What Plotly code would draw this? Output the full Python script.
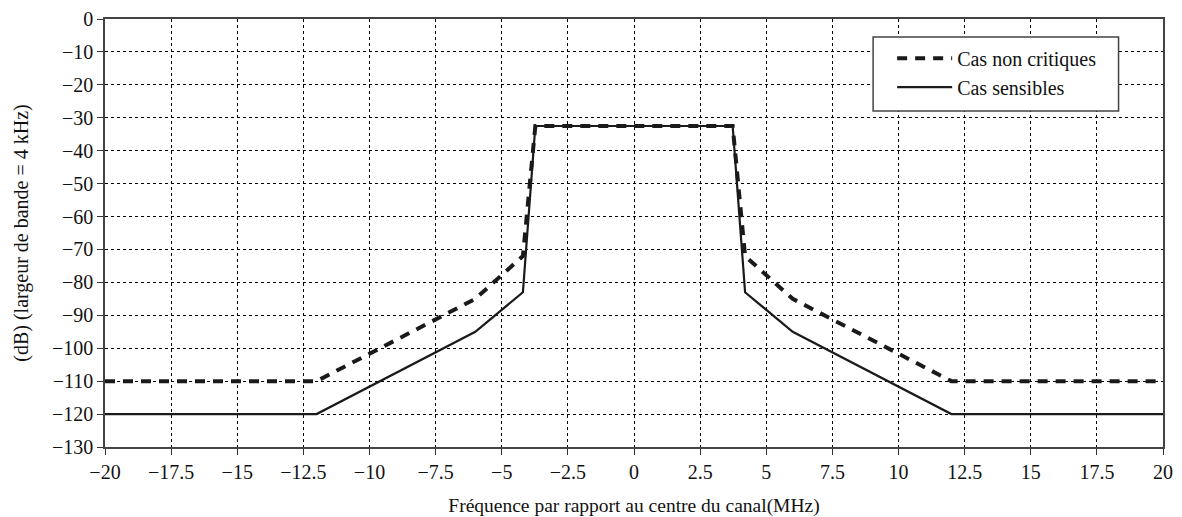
import plotly.graph_objects as go

# Data
x_non_critiques = [-20, -12, -6, -4.2, -3.73, 3.73, 4.2, 6, 12, 20]
y_non_critiques = [-110, -110, -85, -72, -32.5, -32.5, -72, -85, -110, -110]

x_sensibles = [-20, -12, -6, -4.2, -3.73, 3.73, 4.2, 6, 12, 20]
y_sensibles = [-120, -120, -95, -83, -32.5, -32.5, -83, -95, -120, -120]

x_ticks = [-20, -17.5, -15, -12.5, -10, -7.5, -5, -2.5, 0, 2.5, 5, 7.5, 10, 12.5, 15, 17.5, 20]
y_ticks = [0, -10, -20, -30, -40, -50, -60, -70, -80, -90, -100, -110, -120, -130]

FONT = "'Liberation Serif', 'Times New Roman', 'DejaVu Serif', serif"

fig = go.Figure()
fig.add_trace(go.Scatter(
    x=x_non_critiques, y=y_non_critiques, mode="lines", name="Cas non critiques",
    legendgroup="a",
    line=dict(color="#1a1a1a", width=4, dash="10px,8px"),
))
fig.add_trace(go.Scatter(
    x=x_sensibles, y=y_sensibles, mode="lines", name="Cas sensibles",
    legendgroup="b",
    line=dict(color="#1a1a1a", width=2.2),
))

axis_common = dict(
    showline=True, linecolor="#444444", linewidth=1.5, mirror=True,
    showgrid=True, gridcolor="#000000", gridwidth=1, griddash="dot",
    ticks="outside", ticklen=6, tickcolor="#333333", tickwidth=1,
    zeroline=False, automargin=False,
    tickfont=dict(family=FONT, size=20, color="#111111"),
)

# legend frame
fig.add_shape(type="rect", xref="paper", yref="paper",
              x0=0.726, x1=0.958, y0=0.785, y1=0.958,
              fillcolor="white", line=dict(color="#444444", width=1.5),
              layer="above")

fig.update_layout(
    width=1174, height=509,
    margin=dict(l=97, r=19, t=11, b=70),
    paper_bgcolor="white", plot_bgcolor="white",
    font=dict(family=FONT, size=20, color="#111111"),
    showlegend=True,
    legend=dict(
        x=0.744, y=0.954, xanchor="left", yanchor="top",
        bgcolor="rgba(0,0,0,0)", borderwidth=0,
        font=dict(family=FONT, size=20, color="#111111"),
        tracegroupgap=0, itemwidth=55,
    ),
    xaxis=dict(
        range=[-20, 20], tickvals=x_ticks,
        title=dict(text="Fréquence par rapport au centre du canal(MHz)",
                   font=dict(family=FONT, size=19.5), standoff=17),
        **axis_common,
    ),
    yaxis=dict(
        range=[-130, 0], tickvals=y_ticks,
        title=dict(text="(dB) (largeur de bande = 4 kHz)",
                   font=dict(family=FONT, size=20), standoff=18),
        **axis_common,
    ),
)

fig.write_html("out.html")
